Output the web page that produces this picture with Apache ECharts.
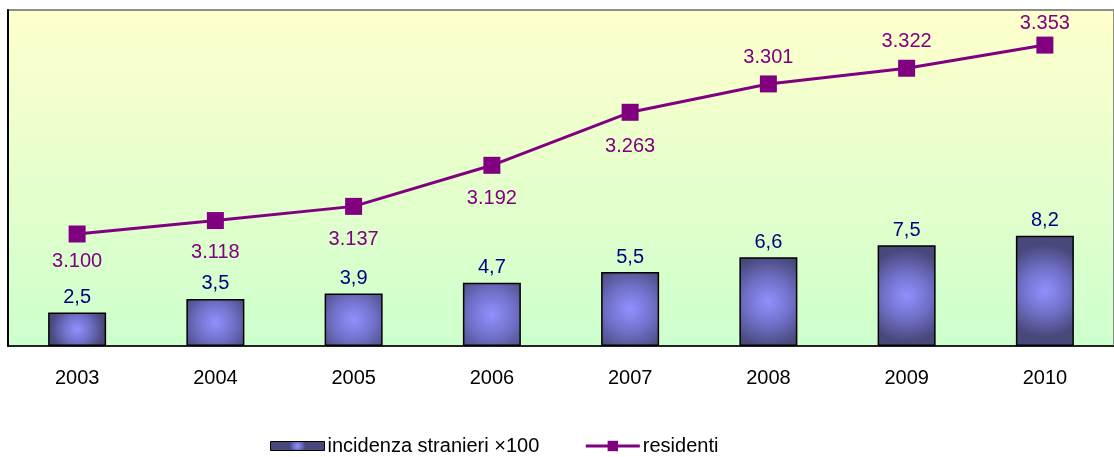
<!DOCTYPE html>
<html>
<head>
<meta charset="utf-8">
<script src="https://cdn.jsdelivr.net/npm/echarts@6/dist/echarts.min.js"></script>
<style>
  html, body { margin: 0; padding: 0; background: #fff; }
  #chart { width: 1114px; height: 457px; }
</style>
</head>
<body>
<div id="chart"></div>
<script>
// anni
const years = ['2003', '2004', '2005', '2006', '2007', '2008', '2009', '2010']
// incidenza stranieri x100
const incidenza = [2.5, 3.5, 3.9, 4.7, 5.5, 6.6, 7.5, 8.2]
// residenti
const residenti = [3100, 3118, 3137, 3192, 3263, 3301, 3322, 3353]
// posizione e distanza delle etichette della linea
const labelPos = ['bottom', 'bottom', 'bottom', 'bottom', 'bottom', 'top', 'top', 'top']
const labelDist = [9, 13, 15, 15, 16, 8, 8, 3]

const chart = echarts.init(document.getElementById('chart'))

const barColor = {
  type: 'radial', x: 0.5, y: 0.5, r: 0.8,
  colorStops: [
    { offset: 0, color: '#9090ff' },
    { offset: 0.5, color: '#7070c8' },
    { offset: 1, color: '#48487a' }
  ]
}

const option = {
  animation: false,
  textStyle: { fontFamily: 'Liberation Sans, Arial, sans-serif' },
  grid: {
    left: 8, top: 10, width: 1112, height: 336,
    show: true,
    borderColor: '#8c8c8c',
    borderWidth: 2,
    backgroundColor: {
      type: 'linear', x: 0, y: 0, x2: 0, y2: 1,
      colorStops: [
        { offset: 0, color: '#ffffcc' },
        { offset: 1, color: '#ccffcc' }
      ]
    }
  },
  legend: {
    top: 431,
    left: 265,
    itemGap: 45,
    itemWidth: 54,
    itemHeight: 13,
    lineStyle: { width: 3 },
    textStyle: { fontSize: 20, color: '#000', padding: [0, 0, 0, -2] },
    data: [
      { name: 'incidenza stranieri ×100', icon: 'path://M0,2L54,2L54,11L0,11Z', itemStyle: { borderColor: '#000', borderWidth: 1 } },
      { name: 'residenti' }
    ]
  },
  xAxis: {
    type: 'category',
    data: years,
    axisLine: { lineStyle: { color: '#000', width: 1.5 } },
    axisTick: { length: 8, lineStyle: { color: '#000' } },
    axisLabel: { fontSize: 20, color: '#000', margin: 22 }
  },
  yAxis: [
    {
      type: 'value', min: 0, max: 25,
      axisLine: { show: true, lineStyle: { color: '#000', width: 2 } },
      axisTick: { show: false },
      axisLabel: { show: false },
      splitLine: { show: false }
    },
    {
      type: 'value', min: 2950, max: 3400,
      axisLine: { show: false },
      axisTick: { show: false },
      axisLabel: { show: false },
      splitLine: { show: false }
    }
  ],
  series: [
    {
      name: 'incidenza stranieri ×100',
      type: 'bar',
      yAxisIndex: 0,
      barWidth: 58,
      data: incidenza,
      itemStyle: { color: barColor, borderColor: '#000', borderWidth: 1.5 },
      label: {
        show: true, position: 'top', distance: 5,
        fontSize: 20, color: '#000080',
        formatter: p => String(p.value).replace('.', ',')
      }
    },
    {
      name: 'residenti',
      type: 'line',
      yAxisIndex: 1,
      data: residenti.map((v, i) => ({
        value: v,
        label: { position: labelPos[i], distance: labelDist[i] }
      })),
      symbol: 'rect',
      symbolSize: 17,
      lineStyle: { color: '#800080', width: 3 },
      itemStyle: { color: '#800080' },
      label: {
        show: true,
        fontSize: 20, color: '#800080',
        formatter: p => p.value.toLocaleString('de-DE')
      }
    }
  ]
}

chart.setOption(option)
</script>
</body>
</html>
